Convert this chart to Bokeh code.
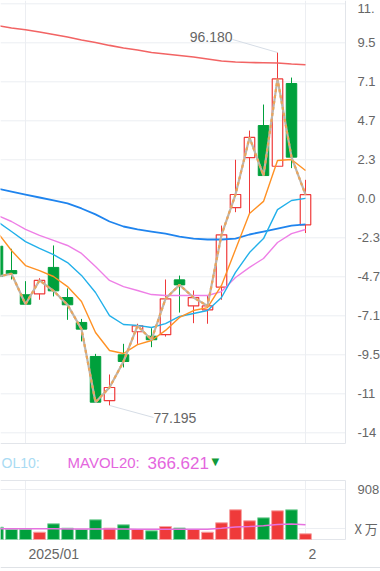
from bokeh.plotting import figure
from bokeh.models import Range1d, ColumnDataSource
from bokeh.embed import file_html
from bokeh.resources import INLINE
from bokeh.core.properties import value

# ---------------- data ----------------
idx = list(range(23))
open_ = [85.76, 84.45, 83.15, 83.20, 84.62, 83.00, 81.66, 79.83, 77.45, 79.92, 81.16, 80.92,
         81.00, 83.95, 82.55, 82.34, 83.56, 87.83, 90.52, 92.25, 90.06, 94.51, 86.91]
close = [84.13, 84.28, 82.64, 83.92, 83.36, 82.61, 81.30, 77.37, 78.16, 79.56, 81.48, 80.73,
         82.93, 83.68, 83.00, 82.55, 86.37, 88.54, 91.61, 89.56, 94.76, 90.55, 88.53]
high = [85.91, 85.62, 83.88, 84.04, 85.80, 83.49, 81.85, 79.97, 78.86, 80.51, 81.59, 81.35,
        83.97, 84.18, 83.38, 83.11, 86.87, 90.41, 91.98, 93.38, 96.18, 94.83, 89.33]
low = [83.97, 83.97, 82.64, 82.88, 83.06, 81.80, 80.64, 77.37, 77.195, 79.24, 80.51, 80.33,
       80.90, 82.19, 81.62, 81.59, 82.88, 87.59, 87.52, 89.56, 90.06, 89.96, 86.47]

ma_orange = [86.50, 85.53, 84.72, 84.45, 84.13, 83.59, 82.79, 81.12, 80.15, 79.99, 80.47, 80.69,
             81.23, 81.93, 82.30, 82.46, 83.65, 85.58, 87.52, 88.17, 90.37, 90.42, 89.83]
ma_cyan = [87.09, 86.55, 86.01, 85.64, 85.31, 84.88, 84.19, 83.27, 82.03, 81.55, 81.50, 81.39,
           81.60, 81.98, 82.14, 82.30, 83.00, 84.35, 85.42, 86.17, 87.73, 88.22, 88.33]
ma_violet = [87.41, 87.09, 86.66, 86.34, 86.07, 85.80, 85.37, 84.67, 83.92, 83.59, 83.38, 83.16,
             83.11, 83.11, 83.11, 83.11, 83.32, 84.08, 84.62, 85.10, 85.96, 86.44, 86.66]
ma_blue = [88.86, 88.70, 88.54, 88.38, 88.22, 88.06, 87.79, 87.47, 87.09, 86.82, 86.66, 86.55,
           86.44, 86.28, 86.17, 86.12, 86.12, 86.17, 86.39, 86.55, 86.71, 86.87, 86.93]
ma_red = [97.63, 97.50, 97.40, 97.28, 97.15, 97.01, 96.85, 96.72, 96.56, 96.42, 96.31, 96.18,
          96.10, 96.02, 95.94, 95.83, 95.72, 95.67, 95.64, 95.63, 95.61, 95.56, 95.52]

volume = [223.4, 181.6, 181.6, 132.6, 285.1, 205.2, 181.6, 357.8, 205.2, 267.0, 181.6, 158.0,
          236.1, 208.8, 181.6, 132.6, 303.3, 539.4, 339.6, 394.1, 521.2, 539.4, 103.5]
mavol20 = [194.3, 194.3, 194.3, 194.3, 194.3, 190.7, 190.7, 190.7, 190.7, 190.7, 187.0, 187.0,
           187.0, 187.0, 187.0, 187.0, 205.2, 227.0, 236.1, 248.8, 272.4, 281.5, 267.0]

pct_ticks = [98.798, 96.700, 94.603, 92.505, 90.408, 88.310, 86.212, 84.115, 82.017, 79.920,
             77.822, 75.724]
pct_labels = ["11.", "9.5", "7.1", "4.7", "2.3", "0.0", "-2.3", "-4.7", "-7.1", "-9.5", "-11", "-14"]
vol_ticks = [908.0, 199.8]
vol_labels = ["908", "X 万"]
date_ticks = [2, 22]
date_labels = ["2025/01", "2"]
mavol10_label = "OL10:"
mavol20_label = "MAVOL20:"
mavol20_text = "366.621"

# ---------------- layout constants (pixels of the 380x571 canvas) ----------------
W, H = 380, 571
PX_BAR = 14.0            # pixels per bar slot
X_AT0 = -3.0             # canvas x of bar 0
PRICE_PX = 0.053785      # price per pixel
Y_ZERO, P_ZERO = 198.3, 88.31
VOL_PX = 18.16           # volume per pixel
VOL_BASE = 539.0         # canvas y of volume 0

def cx(px):   # canvas x -> bar index units
    return (px - X_AT0) / PX_BAR

def cy(py):   # canvas y -> price units
    return P_ZERO + (Y_ZERO - py) * PRICE_PX

def cv(py):   # canvas y -> volume units
    return (VOL_BASE - py) * VOL_PX

RED = "#ef3a3a"
GREEN = "#00a03c"
RED_EDGE = "#f7a3a3"
GREEN_EDGE = "#84d3a2"
GRID = "#eceef2"
BORDER = "#e2e5ea"
FONT = "Liberation Sans"
TXT = "#666666"

p = figure(width=W, height=H, x_range=Range1d(cx(0), cx(W)), y_range=Range1d(cy(H), cy(0)),
           output_backend="svg", toolbar_location=None,
           x_axis_location=None, y_axis_location=None, min_border=0)
p.extra_y_ranges = {"vol": Range1d(cv(H), cv(0))}
p.grid.visible = False
p.outline_line_color = None
p.background_fill_color = "white"
p.border_fill_color = "white"

# ---- grid lines and panel borders ----
MAIN_BOTTOM, VOL_TOP, VOL_BOTTOM, RIGHT = 443, 480, 539, 345
n = len(pct_ticks)
p.segment(x0=[cx(0)] * n, x1=[cx(RIGHT)] * n, y0=pct_ticks, y1=pct_ticks,
          line_color=GRID, line_width=1)
p.segment(x0=date_ticks, x1=date_ticks, y0=[cy(0)] * 2, y1=[cy(MAIN_BOTTOM)] * 2,
          line_color=GRID, line_width=1)
p.segment(x0=[cx(RIGHT), cx(0)], x1=[cx(RIGHT), cx(RIGHT)],
          y0=[cy(0), cy(MAIN_BOTTOM)], y1=[cy(MAIN_BOTTOM), cy(MAIN_BOTTOM)],
          line_color=BORDER, line_width=1)
nv = len(vol_ticks)
p.segment(x0=[cx(0)] * nv, x1=[cx(RIGHT)] * nv, y0=vol_ticks, y1=vol_ticks,
          line_color=GRID, line_width=1, y_range_name="vol")
p.segment(x0=date_ticks, x1=date_ticks, y0=[cv(VOL_TOP)] * 2, y1=[cv(VOL_BOTTOM)] * 2,
          line_color=GRID, line_width=1, y_range_name="vol")
p.segment(x0=[cx(0), cx(0), cx(RIGHT)], x1=[cx(RIGHT), cx(RIGHT), cx(RIGHT)],
          y0=[cv(VOL_TOP), cv(VOL_BOTTOM), cv(VOL_TOP)],
          y1=[cv(VOL_TOP), cv(VOL_BOTTOM), cv(VOL_BOTTOM)],
          line_color=BORDER, line_width=1, y_range_name="vol")
# slider strip at the very bottom
p.segment(x0=[cx(0)], x1=[cx(W)], y0=[cv(567)], y1=[cv(567)], line_color="#dfe2e6",
          line_width=1, y_range_name="vol")

# ---- candles ----
up = [i for i in idx if close[i] >= open_[i]]
dn = [i for i in idx if close[i] < open_[i]]
src_up = ColumnDataSource(dict(
    x=up, top=[close[i] for i in up], bottom=[open_[i] for i in up],
    high=[high[i] for i in up], low=[low[i] for i in up]))
src_dn = ColumnDataSource(dict(
    x=dn, top=[open_[i] for i in dn], bottom=[close[i] for i in dn],
    high=[high[i] for i in dn], low=[low[i] for i in dn]))

for src, col in ((src_up, RED), (src_dn, GREEN)):
    p.segment(x0="x", y0="high", x1="x", y1="top", line_color=col, line_width=1, source=src)
    p.segment(x0="x", y0="bottom", x1="x", y1="low", line_color=col, line_width=1, source=src)
p.vbar(x="x", width=0.75, top="top", bottom="bottom", fill_alpha=0, line_color=RED,
       line_width=1.2, source=src_up)
p.vbar(x="x", width=0.75, top="top", bottom="bottom", fill_color=GREEN, line_color=GREEN,
       line_width=1, source=src_dn)

# ---- moving averages and close line ----
p.line(idx, ma_red, line_color="#f26464", line_width=1.6)
p.line(idx, ma_blue, line_color="#1f84ee", line_width=1.8)
p.line(idx, ma_violet, line_color="#ee7fe6", line_width=1.4)
p.line(idx, ma_cyan, line_color="#22b0ea", line_width=1.4)
p.line(idx, ma_orange, line_color="#ff9124", line_width=1.4)
p.line(idx, close, line_color="#bdb5ad", line_width=2.2)
p.line(idx, close, line_color="#eba55a", line_width=2.2, line_dash="3 3")

# ---- high / low markers ----
ih = high.index(max(high))
il = low.index(min(low))
hx = ih - 45 / PX_BAR
lx = il + 44 / PX_BAR
p.segment(x0=[ih, il], y0=[high[ih], low[il]], x1=[hx, lx],
          y1=[high[ih] + 13 * PRICE_PX, low[il] - 12 * PRICE_PX],
          line_color="#d6dde6", line_width=1)
p.text(x=[hx], y=[high[ih] + 15.3 * PRICE_PX], text=[f"{high[ih]:.3f}"],
       text_font=value(FONT), text_font_size="14px", text_color=TXT,
       text_align="right", text_baseline="middle")
p.text(x=[lx], y=[low[il] - 12.7 * PRICE_PX], text=[f"{low[il]:.3f}"],
       text_font=value(FONT), text_font_size="14px", text_color=TXT,
       text_align="left", text_baseline="middle")

# ---- volume ----
vsrc_up = ColumnDataSource(dict(x=up, top=[volume[i] for i in up]))
vsrc_dn = ColumnDataSource(dict(x=dn, top=[volume[i] for i in dn]))
p.vbar(x="x", width=0.84, top="top", bottom=0, fill_color=RED, line_color=RED_EDGE,
       line_width=1, source=vsrc_up, y_range_name="vol")
p.vbar(x="x", width=0.84, top="top", bottom=0, fill_color=GREEN, line_color=GREEN_EDGE,
       line_width=1, source=vsrc_dn, y_range_name="vol")
p.line(idx, mavol20, line_color="#e672e0", line_width=1.5, y_range_name="vol")

# ---- texts ----
label_y = [max(min(t, cy(8)), cy(H)) for t in pct_ticks]
p.text(x=[cx(357)] * n, y=label_y, text=pct_labels, text_font=value(FONT),
       text_font_size="13px", text_color=TXT, text_align="left", text_baseline="middle")
p.text(x=[cx(357)], y=[vol_ticks[0]], text=[vol_labels[0]], text_font=value(FONT),
       text_font_size="13px", text_color=TXT, text_align="left", text_baseline="middle",
       y_range_name="vol")
p.text(x=[cx(354)], y=[vol_ticks[1]], text=[vol_labels[1]],
       text_font=value("Noto Sans CJK SC"), text_font_size="13px", text_color=TXT,
       text_align="left", text_baseline="middle", y_range_name="vol")

leg_y = cv(462)
p.text(x=[cx(1)], y=[leg_y], text=[mavol10_label], text_font=value(FONT), text_font_size="14px",
       text_color="#a9dbf3", text_align="left", text_baseline="middle", y_range_name="vol")
p.text(x=[cx(67)], y=[leg_y], text=[mavol20_label], text_font=value(FONT),
       text_font_size="15px", text_color="#e466de", text_align="left", text_baseline="middle",
       y_range_name="vol")
p.text(x=[cx(147)], y=[leg_y], text=[mavol20_text], text_font=value(FONT),
       text_font_size="17px", text_color="#e466de", text_align="left", text_baseline="middle",
       y_range_name="vol")
p.text(x=[cx(211)], y=[leg_y + 1 * VOL_PX], text=["▼"], text_font=value("DejaVu Sans"),
       text_font_size="10px", text_color="#119a3a", text_align="left", text_baseline="middle",
       y_range_name="vol")

p.text(x=[t + 3 / PX_BAR for t in date_ticks], y=[cv(553)] * 2, text=date_labels,
       text_font=value(FONT), text_font_size="14px", text_color=TXT, text_align="left",
       text_baseline="middle", y_range_name="vol")

open("out.html", "w").write(file_html(p, INLINE))
